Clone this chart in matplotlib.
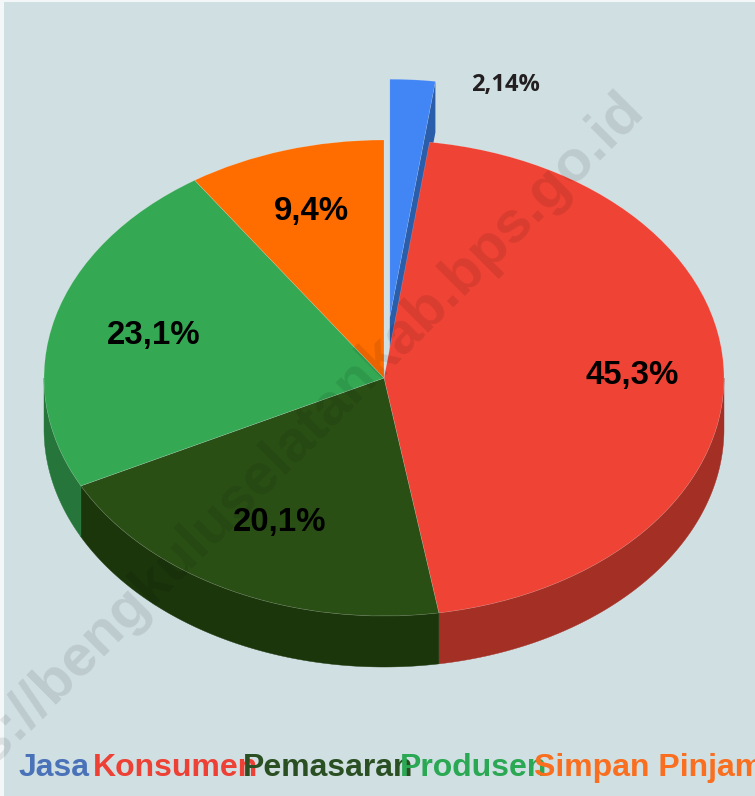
import numpy as np
import matplotlib
matplotlib.use("Agg")
import matplotlib.pyplot as plt
from matplotlib.patches import Rectangle

categories = ["Jasa", "Konsumen", "Pemasaran", "Produsen", "Simpan Pinjam"]
values = [2.14, 45.3, 20.1, 23.1, 9.4]
value_labels = ["2,14%", "45,3%", "20,1%", "23,1%", "9,4%"]
explode = [0.256, 0, 0, 0, 0]
top_colors = ["#4285f4", "#ee4335", "#2a4f14", "#34a853", "#ff6d01"]
wall_colors = ["#2a5daa", "#a32f25", "#1c360c", "#26763b", "#b34d00"]
legend_colors = ["#4a72b8", "#ee4136", "#2a4f22", "#2aa853", "#f96f1f"]
legend_x = [19, 93, 243, 400, 534]
label_radius = [None, 0.73, 0.68, 0.70, 0.73]

W, H = 755, 796
CX, CY, RX, RY, DEPTH = 384, 378, 340, 238, 51
BG = "#d0dfe2"

fig = plt.figure(figsize=(W / 100, H / 100), dpi=100, facecolor="#f4f7f8")
ax = fig.add_axes([0, 0, 1, 1])
wedges, _ = ax.pie(values, explode=explode, colors=top_colors, startangle=90,
                   counterclock=False, radius=1,
                   wedgeprops=dict(linewidth=0.4, edgecolor="#ffffff40", zorder=5))
ax.set_aspect("auto")
ax.set_xlim((0 - CX) / RX, (W - CX) / RX)
ax.set_ylim((CY - H) / RY, CY / RY)
ax.axis("off")


def px(x, y):
    return (x - CX) / RX, (CY - y) / RY


# background panel
fig.patches.append(Rectangle((4 / W, 0), 1, 1 - 2 / H, transform=fig.transFigure,
                             facecolor=BG, edgecolor="none", zorder=-10))

d = DEPTH / RY
for w, wc in zip(wedges, wall_colors):
    cx, cy = w.center
    t1, t2 = w.theta1, w.theta2
    # outer rim wall on the front half of the ellipse
    a, b = max(t1, -180), min(t2, 0)
    if b > a:
        t = np.radians(np.linspace(a, b, 200))
        xs, ys = cx + np.cos(t), cy + np.sin(t)
        ax.fill(np.r_[xs, xs[::-1]], np.r_[ys, ys[::-1] - d], color=wc, lw=0.3, zorder=2)
    # radial face of the pulled-out slice
    if cy > 0:
        r = np.radians(t1)
        xs = [cx, cx + np.cos(r), cx + np.cos(r), cx]
        ys = [cy, cy + np.sin(r), cy + np.sin(r) - d, cy - d]
        ax.fill(xs, ys, color=wc, lw=0, zorder=1)

# the pulled-out slice lies under the other tops
wedges[0].set_zorder(1.5)

for w, lab, r in zip(wedges, value_labels, label_radius):
    if r is None:
        continue
    m = np.radians((w.theta1 + w.theta2) / 2)
    ax.text(r * np.cos(m), r * np.sin(m), lab, ha="center", va="center", zorder=8,
            family="Liberation Sans", weight="bold", fontsize=23.8, color="#000000")

x0, y0 = px(505, 85)
ax.text(x0, y0, value_labels[0], ha="center", va="center", zorder=8,
        family="Open Sans", weight="bold", fontsize=17, color="#231f20")

for name, c, x in zip(categories, legend_colors, legend_x):
    xx, yy = px(x, 768)
    ax.text(xx, yy, name, ha="left", va="center", color=c, zorder=8,
            family=["Liberation Sans Narrow", "Liberation Sans"], weight="bold", fontsize=23)

wx, wy = px(270, 466)
ax.text(wx, wy, "https://bengkuluselatankab.bps.go.id", rotation=45, rotation_mode="anchor",
        ha="center", va="center", color="#000000", alpha=0.09, zorder=9,
        family="Liberation Sans", weight="bold", fontsize=42, clip_on=True)

fig.savefig("out.png", dpi=100, facecolor=fig.get_facecolor())
